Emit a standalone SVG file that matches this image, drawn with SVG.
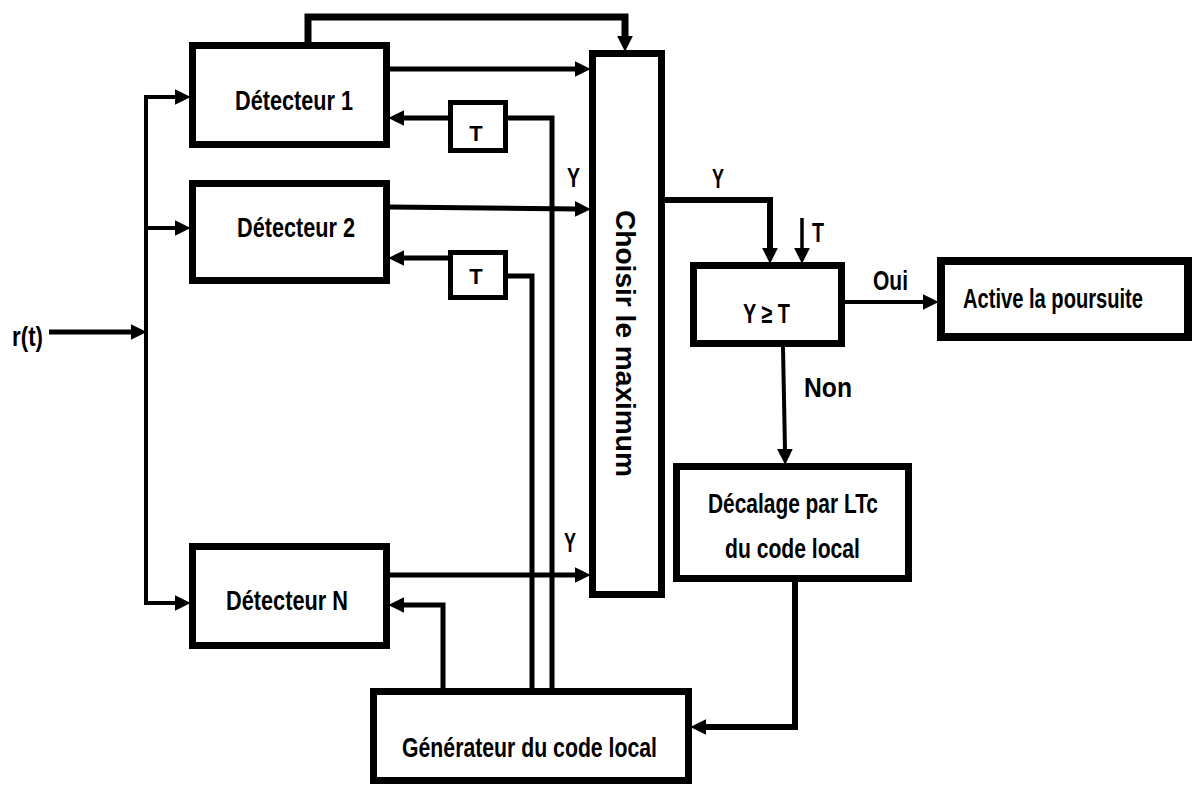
<svg xmlns="http://www.w3.org/2000/svg" width="1194" height="785" viewBox="0 0 1194 785">
<style>
.box{fill:#fff;stroke:#000;stroke-width:7}
.tb{fill:#fff;stroke:#000;stroke-width:5}
.c{fill:none;stroke:#000;stroke-linejoin:miter}
.w3{stroke-width:3.5}
.w4{stroke-width:4}
.w5{stroke-width:5}
.w6{stroke-width:6}
.w7{stroke-width:7}
text{font-family:"Liberation Sans",Arial,sans-serif;font-weight:bold;fill:#000;font-size:27px}
.s{font-size:22px}
</style>
<defs>
<marker id="ah" markerUnits="userSpaceOnUse" markerWidth="16" markerHeight="16" refX="2" refY="7" orient="auto" viewBox="0 0 14 14">
<path d="M0,0 L14,7 L0,14 z" fill="#000"/>
</marker>
</defs>
<rect width="1194" height="785" fill="#fff"/>
<g id="connectors">
<path class="c w5" d="M49,332 H133" marker-end="url(#ah)"/>
<path class="c w4" d="M146,97 V603"/>
<path class="c w4" d="M144,97 H177" marker-end="url(#ah)"/>
<path class="c w4" d="M144,228 H177" marker-end="url(#ah)"/>
<path class="c w4" d="M144,603 H177" marker-end="url(#ah)"/>
<path class="c w7" d="M308,42 V17 H625 V38" marker-end="url(#ah)"/>
<path class="c w5" d="M390,69 H577" marker-end="url(#ah)"/>
<path class="c w5" d="M390,207 L577,209" marker-end="url(#ah)"/>
<path class="c w5" d="M390,575 H577" marker-end="url(#ah)"/>
<path class="c w5" d="M448,118 H402" marker-end="url(#ah)"/>
<path class="c w5" d="M448,258 H402" marker-end="url(#ah)"/>
<path class="c w5" d="M552,688 V118 H508"/>
<path class="c w5" d="M532,688 V276 H508"/>
<path class="c w5" d="M443,688 V605 H402" marker-end="url(#ah)"/>
<path class="c w6" d="M665,200 H770 V250" marker-end="url(#ah)"/>
<path class="c w3" d="M802,218 V250" marker-end="url(#ah)"/>
<path class="c w4" d="M845,302 H925" marker-end="url(#ah)"/>
<path class="c w4" d="M783,347 L785,451" marker-end="url(#ah)"/>
<path class="c w6" d="M795,582 V727 H704" marker-end="url(#ah)"/>
</g>
<g id="labels">
<text x="12" y="346" textLength="31" lengthAdjust="spacingAndGlyphs" font-size="26">r(t)</text>
<text x="567" y="187" textLength="13" lengthAdjust="spacingAndGlyphs">Y</text>
<text x="564" y="552" textLength="12" lengthAdjust="spacingAndGlyphs">Y</text>
<text x="712" y="188" textLength="12" lengthAdjust="spacingAndGlyphs">Y</text>
<text x="812" y="242" textLength="12" lengthAdjust="spacingAndGlyphs">T</text>
<text x="873" y="290" textLength="35" lengthAdjust="spacingAndGlyphs">Oui</text>
<text x="804" y="397" textLength="48" lengthAdjust="spacingAndGlyphs">Non</text>
</g>
<g id="det1">
<rect class="box" x="192.5" y="45.5" width="194" height="99"/>
<text x="235" y="110" textLength="118" lengthAdjust="spacingAndGlyphs">Détecteur 1</text>
</g>
<g id="det2">
<rect class="box" x="192.5" y="183.5" width="194" height="97"/>
<text x="237" y="237" textLength="118" lengthAdjust="spacingAndGlyphs">Détecteur 2</text>
</g>
<g id="detN">
<rect class="box" x="192.5" y="546.5" width="194" height="99"/>
<text x="226" y="610" textLength="122" lengthAdjust="spacingAndGlyphs">Détecteur N</text>
</g>
<g id="t1">
<rect class="tb" x="450.5" y="102.5" width="55" height="48"/>
<text class="s" x="476" y="141" text-anchor="middle">T</text>
</g>
<g id="t2">
<rect class="tb" x="450.5" y="252.5" width="55" height="45"/>
<text class="s" x="476" y="284" text-anchor="middle">T</text>
</g>
<g id="choisir">
<rect class="box" x="592.5" y="53.5" width="69" height="541"/>
<text transform="translate(616,210) rotate(90)" x="0" y="0" font-size="23" textLength="267" lengthAdjust="spacingAndGlyphs">Choisir le maximum</text>
</g>
<g id="compare">
<rect class="box" x="693.5" y="265.5" width="148" height="78"/>
<text x="743" y="323" textLength="47" lengthAdjust="spacingAndGlyphs">Y ≥ T</text>
</g>
<g id="active">
<rect class="box" style="stroke-width:8" x="941" y="261" width="247" height="76"/>
<text x="1053" y="308" font-size="21" text-anchor="middle" textLength="180" lengthAdjust="spacingAndGlyphs">Active la poursuite</text>
</g>
<g id="decalage">
<rect class="box" x="676.5" y="466.5" width="232" height="112"/>
<text x="708" y="513" textLength="170" lengthAdjust="spacingAndGlyphs">Décalage par LTc</text>
<text x="725" y="558" textLength="135" lengthAdjust="spacingAndGlyphs">du code local</text>
</g>
<g id="generateur">
<rect class="box" x="373.5" y="691.5" width="315" height="89"/>
<text x="402" y="757" textLength="255" lengthAdjust="spacingAndGlyphs">Générateur du code local</text>
</g>
</svg>
